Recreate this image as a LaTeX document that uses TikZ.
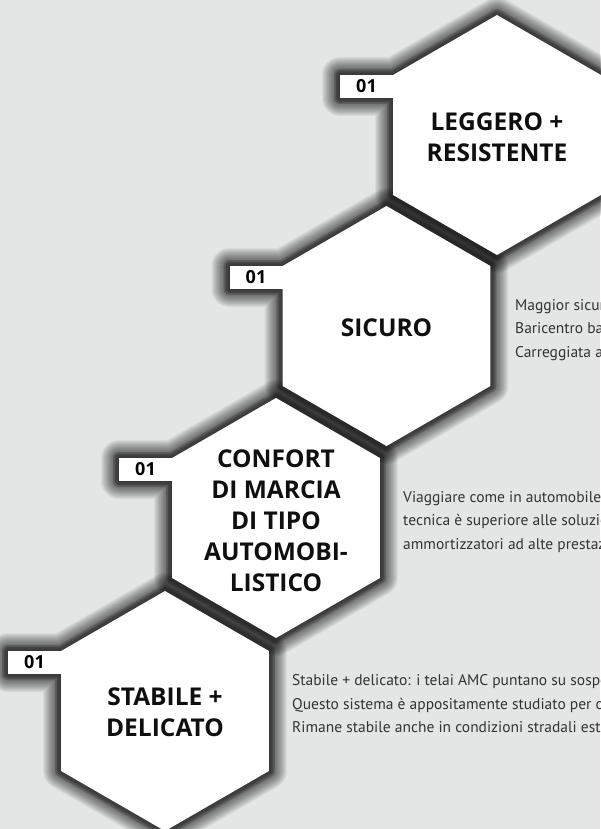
\documentclass[tikz,border=0pt]{standalone}
\usepackage{fontspec}
\newfontfamily\headfont{Open Sans}
\newfontfamily\bodyfont{PT Sans}
\definecolor{bgc}{HTML}{E4E6E5}
\definecolor{ink}{HTML}{0F0F0F}
\definecolor{txt}{HTML}{333333}
\tikzset{
  glow/.style={black, opacity=0.05, line join=round},
  core/.style={black, opacity=0.16, line join=round},
  hexfill/.style={fill=white},
  tagbox/.style={fill=white, minimum width=53pt, minimum height=23pt, inner sep=0pt,
    text=black, font=\headfont\bfseries\fontsize{18}{18}\selectfont},
  title/.style={align=center, inner sep=0pt, text=ink,
    font=\headfont\bfseries\fontsize{24.5}{31}\selectfont},
  desc/.style={align=left, anchor=west, inner sep=0pt, text=txt,
    font=\bodyfont\fontsize{15.5}{23.5}\selectfont},
}
% hexagon (pointy top) and number tag, around the origin of the current scope
\newcommand{\hexpath}{(0,-120) -- (-103.9,-60) -- (-103.9,60) -- (0,120) -- (103.9,60) -- (103.9,-60) -- cycle}
\newcommand{\tagpath}{(-157,-60) rectangle (-103.9,-37)}

\begin{document}
\begin{tikzpicture}[x=1pt,y=-1pt]

\path[use as bounding box, fill=bgc] (0,0) rectangle (600,829);

\coordinate (cA) at (497,135);
\coordinate (cB) at (386.5,326);
\coordinate (cC) at (276,518);
\coordinate (cD) at (165,711);

% soft dark glow behind every hexagon and tag
\foreach \c in {cA,cB,cC,cD}{
  \foreach \w in {2,4,...,36}
    \draw[glow, line width=\w pt, shift={(\c)}] \hexpath \tagpath;
  \foreach \w in {8,12}
    \draw[core, line width=\w pt, shift={(\c)}] \hexpath \tagpath;
}

% white faces
\foreach \c in {cA,cB,cC,cD}
  \fill[hexfill, shift={(\c)}] \hexpath;

% ===================== step 1: leggero + resistente =========================
\begin{scope}[shift={(cA)}]
  \node[tagbox] (tagA) at (-130.5,-48.5) {01};
  \node[title] (titA) at (0,2) {LEGGERO +\\RESISTENTE};
\end{scope}

% ===================== step 2: sicuro =======================================
\begin{scope}[shift={(cB)}]
  \node[tagbox] (tagB) at (-130.5,-48.5) {01};
  \node[title] (titB) at (0,2) {SICURO};
  \node[desc] (dscB) at (128.5,4) {Maggior sicur\\Baricentro ba\\Carreggiata a};
\end{scope}

% ===================== step 3: confort di marcia ============================
\begin{scope}[shift={(cC)}]
  \node[tagbox] (tagC) at (-130.5,-48.5) {01};
  \node[title] (titC) at (0,3) {CONFORT\\DI MARCIA\\DI TIPO\\AUTOMOBI-\\LISTICO};
  \node[desc] (dscC) at (127,4)
    {Viaggiare come in automobile\\tecnica è superiore alle soluzio\\ammortizzatori ad alte prestaz};
\end{scope}

% ===================== step 4: stabile + delicato ===========================
\begin{scope}[shift={(cD)}]
  \node[tagbox] (tagD) at (-130.5,-48.5) {01};
  \node[title] (titD) at (0,1) {STABILE +\\DELICATO};
  \node[desc] (dscD) at (127,-7)
    {Stabile + delicato: i telai AMC puntano su sospe\\Questo sistema è appositamente studiato per o\\Rimane stabile anche in condizioni stradali estr};
\end{scope}

\end{tikzpicture}
\end{document}
